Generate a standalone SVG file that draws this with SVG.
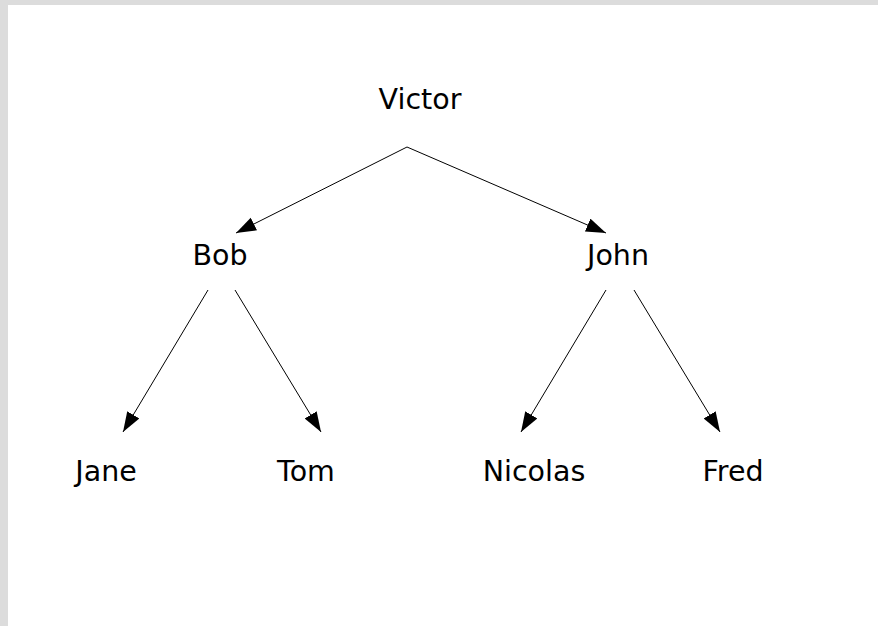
<svg xmlns="http://www.w3.org/2000/svg" width="878" height="626" viewBox="0 0 878 626">
  <style>
    .label { font-family: "DejaVu Sans", sans-serif; font-size: 28.5px; fill: #000; text-anchor: middle; }
    .edge { stroke: #000; stroke-width: 1; fill: none; marker-end: url(#arrow); }
  </style>
  <defs>
    <marker id="arrow" markerUnits="userSpaceOnUse" markerWidth="22" markerHeight="15" refX="20" refY="7" orient="auto">
      <path d="M0,0 L20,7 L0,14 Z" fill="#000"/>
    </marker>
  </defs>
  <!-- page frame -->
  <rect x="0" y="0" width="878" height="626" fill="#dcdcdc"/>
  <rect x="8" y="5" width="870" height="621" fill="#fff"/>

  <g id="connectors">
    <line class="edge" x1="407" y1="147" x2="236" y2="233"/>
    <line class="edge" x1="407" y1="147" x2="606" y2="233"/>
    <line class="edge" x1="208" y1="290" x2="123" y2="432"/>
    <line class="edge" x1="235" y1="290" x2="321" y2="432"/>
    <line class="edge" x1="606" y1="290" x2="521" y2="432"/>
    <line class="edge" x1="634" y1="290" x2="720" y2="432"/>
  </g>

  <g id="victor"><text class="label" x="420" y="109">Victor</text></g>
  <g id="bob"><text class="label" x="220" y="265">Bob</text></g>
  <g id="john"><text class="label" x="618" y="265">John</text></g>
  <g id="jane"><text class="label" x="106" y="481">Jane</text></g>
  <g id="tom"><text class="label" x="306" y="481">Tom</text></g>
  <g id="nicolas"><text class="label" x="534" y="481">Nicolas</text></g>
  <g id="fred"><text class="label" x="733" y="481">Fred</text></g>
</svg>
